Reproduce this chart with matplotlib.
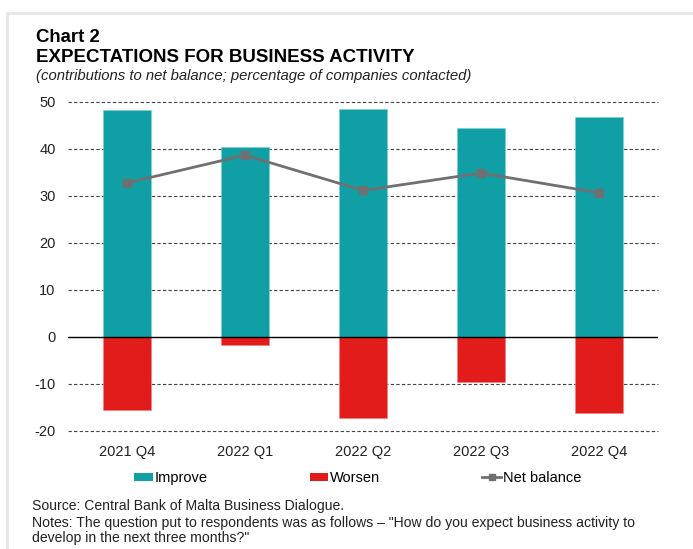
import numpy as np
import matplotlib
matplotlib.use('Agg')
import matplotlib.pyplot as plt
from matplotlib.lines import Line2D
from matplotlib.patches import Patch

plt.rcParams['font.family'] = ['Liberation Sans', 'DejaVu Sans']
plt.rcParams['axes.unicode_minus'] = False

# ------------------------------------------------------------------
# Data
# ------------------------------------------------------------------
QUARTERS = ['2021 Q4', '2022 Q1', '2022 Q2', '2022 Q3', '2022 Q4']
IMPROVE = [48.2, 40.3, 48.4, 44.4, 46.8]
WORSEN = [-15.5, -1.7, -17.3, -9.6, -16.2]
NET_BALANCE = [32.7, 38.6, 31.1, 34.8, 30.6]
Y_TICKS = [-20, -10, 0, 10, 20, 30, 40, 50]

TEAL = '#109FA4'
RED = '#E21B1B'
GREY = '#707072'

fig = plt.figure(figsize=(6.93, 5.49), dpi=100)
ax = fig.add_axes([68 / 693, 118 / 549, 590 / 693, 329.5 / 549])

x = np.arange(len(QUARTERS))
ax.bar(x, IMPROVE, width=0.4, color=TEAL, edgecolor='#7fd0d3', linewidth=0.4, zorder=3)
ax.bar(x, WORSEN, width=0.4, color=RED, edgecolor='#f08080', linewidth=0.4, zorder=3)
ax.plot(x, NET_BALANCE, color=GREY, linewidth=2, marker='s', markersize=6, zorder=4)

# grid
for v in Y_TICKS:
    if v == 0:
        ax.axhline(0, color='black', linewidth=1.0, zorder=3.5)
    else:
        ax.axhline(v, color='#444444', linewidth=0.8, linestyle=(0, (3, 2)),
                   zorder=1, clip_on=False)

ax.set_xlim(-0.5, len(QUARTERS) - 0.5)
ax.set_ylim(-20, 50)
ax.set_yticks(Y_TICKS)
ax.set_xticks(x)
ax.set_xticklabels(QUARTERS)
for s in ax.spines.values():
    s.set_visible(False)
ax.tick_params(axis='both', length=0, labelsize=10.5, colors='#222222')
ax.tick_params(axis='y', pad=9)
ax.tick_params(axis='x', pad=10)

# legend
handles = [Patch(facecolor=TEAL), Patch(facecolor=RED),
           Line2D([0], [0], color=GREY, linewidth=2, marker='s', markersize=4)]
leg = fig.legend(handles, ['Improve', 'Worsen', 'Net balance'], ncol=3,
                 loc='center left', bbox_to_anchor=(134 / 693, 1 - 478 / 549),
                 frameon=False, fontsize=10.5, handlelength=1.3, handleheight=0.5,
                 handletextpad=0.1, columnspacing=7.0, borderpad=0, borderaxespad=0)

# titles
fig.text(36 / 693, 1 - 42 / 549, 'Chart 2', fontsize=13.4, fontweight='bold', va='baseline')
fig.text(36 / 693, 1 - 62 / 549, 'EXPECTATIONS FOR BUSINESS ACTIVITY', fontsize=13.5,
         fontweight='bold', va='baseline')
fig.text(36 / 693, 1 - 80 / 549,
         '(contributions to net balance; percentage of companies contacted)',
         fontsize=10.7, style='italic', va='baseline', color='#222222')

# footnotes
fig.text(32 / 693, 1 - 510 / 549, 'Source: Central Bank of Malta Business Dialogue.',
         fontsize=10.1, va='baseline', color='#222222')
fig.text(32 / 693, 1 - 527 / 549,
         'Notes: The question put to respondents was as follows \u2013 "How do you expect business activity to',
         fontsize=10.1, va='baseline', color='#222222')
fig.text(32 / 693, 1 - 542 / 549, 'develop in the next three months?"',
         fontsize=10.1, va='baseline', color='#222222')

# light frame on top and left
fig.add_artist(Line2D([7 / 693, 1], [1 - 13 / 549, 1 - 13 / 549], color='#e6e6e6',
                      linewidth=2, transform=fig.transFigure))
fig.add_artist(Line2D([7 / 693, 7 / 693], [0, 1 - 13 / 549], color='#e6e6e6',
                      linewidth=2, transform=fig.transFigure))

fig.savefig('out.png', dpi=100)
